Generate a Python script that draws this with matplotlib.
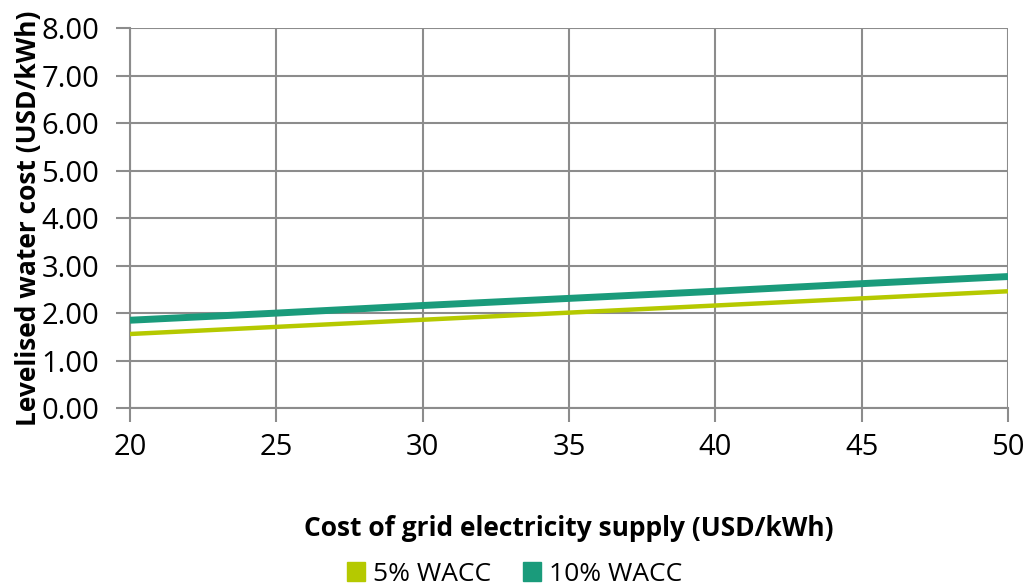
import matplotlib.pyplot as plt
from matplotlib.patches import Patch

grid_cost = [20, 25, 30, 35, 40, 45, 50]
wacc5 = [1.56, 1.71, 1.86, 2.01, 2.16, 2.31, 2.46]
wacc10 = [1.85, 2.00, 2.16, 2.31, 2.46, 2.62, 2.77]
labels = ['5% WACC', '10% WACC']
colors = ['#b5c900', '#1a9b7b']

plt.rcParams['font.family'] = ['Open Sans', 'DejaVu Sans']

fig = plt.figure(figsize=(10.29, 5.88), dpi=100)
ax = fig.add_axes([0.1263, 0.306, 0.8533, 0.646])

ax.plot(grid_cost, wacc5, color=colors[0], lw=3.2, solid_capstyle='butt', zorder=3)
ax.plot(grid_cost, wacc10, color=colors[1], lw=5, solid_capstyle='butt', zorder=3)

ax.set_xlim(20, 50)
ax.set_ylim(0, 8)
ax.set_xticks(range(20, 51, 5))
ax.set_yticks(range(0, 9))
ax.set_yticklabels([f'{v:.2f}' for v in range(0, 9)])

gc = '#8c8c8c'
ax.grid(True, color=gc, lw=1.5)
ax.set_axisbelow(True)
for s in ['top', 'right']:
    ax.spines[s].set_visible(False)
for s in ['left', 'bottom']:
    ax.spines[s].set_color(gc)
    ax.spines[s].set_linewidth(1.5)
ax.tick_params(axis='both', colors=gc, width=1.5, length=10, labelsize=21,
               labelcolor='black')
ax.tick_params(axis='x', pad=8)
ax.tick_params(axis='y', pad=12)

ax.set_xlabel('Cost of grid electricity supply (USD/kWh)', fontsize=19,
              fontweight='bold', labelpad=38)
ax.set_ylabel('Levelised water cost (USD/kWh)', fontsize=19,
              fontweight='bold', labelpad=0)

handles = [Patch(color=c) for c in colors]
fig.legend(handles, labels, loc='lower center', bbox_to_anchor=(0.5, -0.038),
           ncol=2, frameon=False, fontsize=19, handlelength=0.7,
           handleheight=0.7, handletextpad=0.3, columnspacing=1.2)

fig.savefig('out.png', dpi=100)
